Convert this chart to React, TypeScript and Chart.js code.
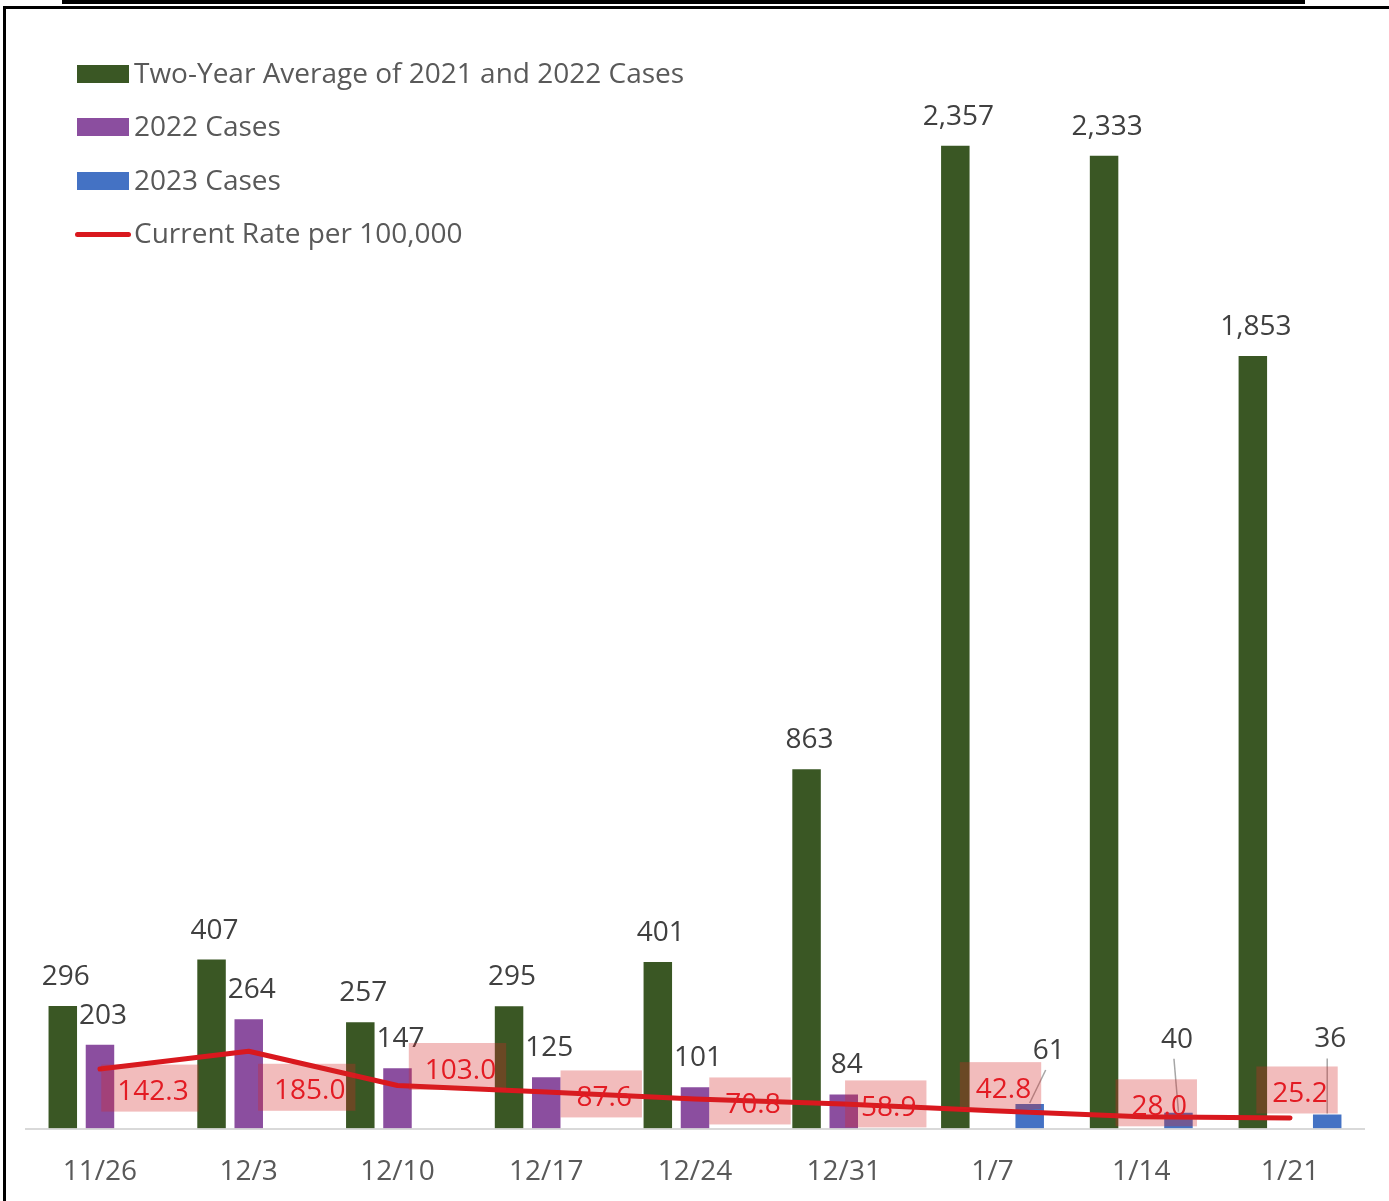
import React, { useEffect, useRef } from 'react';
import { Chart, registerables } from 'chart.js';

Chart.register(...registerables);

const categories = ['11/26', '12/3', '12/10', '12/17', '12/24', '12/31', '1/7', '1/14', '1/21'];
const twoYearAvg = [296, 407, 257, 295, 401, 863, 2357, 2333, 1853];
const cases2022: (number | null)[] = [203, 264, 147, 125, 101, 84, null, null, null];
const cases2023: (number | null)[] = [null, null, null, null, null, null, 61, 40, 36];
const ratePer100k = [142.3, 185.0, 103.0, 87.6, 70.8, 58.9, 42.8, 28.0, 25.2];

const seriesNames = ['Two-Year Average of 2021 and 2022 Cases', '2022 Cases', '2023 Cases', 'Current Rate per 100,000'];

const FONT = '"Open Sans", sans-serif';
const GREEN = '#3a5724';
const PURPLE = '#8b4e9f';
const BLUE = '#4472c4';
const RED = '#d9181e';

// label placement offsets (px) relative to their point / bar top
const RATE_LABEL_OFFSETS: [number, number][] = [
  [50, 19], [58, 36], [60, -19], [55, 2], [55, 2], [42, 0], [8, -25], [15, -14], [7, -28],
];
const BLUE_LABEL_OFFSETS: [number, number][] = [
  [0, -30], [0, -30], [0, -30], [0, -30], [0, -30], [0, -30], [19, -54], [-1.5, -74], [3, -76],
];

const labelPlugin = {
  id: 'customLabels',
  afterDatasetsDraw(chart: any) {
    const ctx = chart.ctx as CanvasRenderingContext2D;
    ctx.save();
    ctx.font = `28px ${FONT}`;
    ctx.textAlign = 'center';
    ctx.textBaseline = 'alphabetic';
    // bar labels
    [0, 1, 2].forEach((di) => {
      const meta = chart.getDatasetMeta(di);
      const data = chart.data.datasets[di].data;
      meta.data.forEach((el: any, i: number) => {
        const v = data[i];
        if (v == null) return;
        const { x, y } = el.getProps(['x', 'y'], true);
        let cx = x + 3;
        let cy = y - 30;
        if (di === 2) {
          const [dx, dy] = BLUE_LABEL_OFFSETS[i];
          cx = x + dx;
          cy = y + dy;
          ctx.strokeStyle = '#a6a6a6';
          ctx.lineWidth = 1.5;
          ctx.beginPath();
          ctx.moveTo(cx - 3, cy + 21);
          ctx.lineTo(x, y);
          ctx.stroke();
        }
        ctx.fillStyle = '#404040';
        ctx.fillText(Number(v).toLocaleString('en-US'), cx, cy + 10);
      });
    });
    // rate labels in boxes
    const lmeta = chart.getDatasetMeta(3);
    lmeta.data.forEach((el: any, i: number) => {
      const v = ratePer100k[i];
      const { x, y } = el.getProps(['x', 'y'], true);
      const [dx, dy] = RATE_LABEL_OFFSETS[i];
      const cx = x + dx;
      const cy = y + dy;
      const txt = v.toFixed(1);
      const w = ctx.measureText(txt).width + 26;
      const h = 47;
      ctx.fillStyle = 'rgba(213, 39, 39, 0.31)';
      ctx.fillRect(cx - w / 2, cy - h / 2, w, h);
      ctx.fillStyle = '#e31b23';
      ctx.fillText(txt, cx + 3, cy + 12);
    });
    ctx.restore();
  },
};

function App() {
  const ref = useRef<HTMLCanvasElement | null>(null);

  useEffect(() => {
    if (!ref.current) return;
    const chart = new Chart(ref.current, {
      type: 'bar',
      data: {
        labels: categories,
        datasets: [
          { type: 'bar', label: seriesNames[0], data: twoYearAvg, backgroundColor: GREEN, borderColor: 'rgba(255,255,255,0.35)', borderWidth: 1, order: 1 },
          { type: 'bar', label: seriesNames[1], data: cases2022, backgroundColor: PURPLE, borderColor: 'rgba(255,255,255,0.35)', borderWidth: 1, order: 1 },
          { type: 'bar', label: seriesNames[2], data: cases2023, backgroundColor: BLUE, borderColor: 'rgba(255,255,255,0.35)', borderWidth: 1, order: 1 },
          {
            type: 'line', label: seriesNames[3], data: ratePer100k, borderColor: RED, borderWidth: 5,
            pointRadius: 0, tension: 0, borderCapStyle: 'round', borderJoinStyle: 'round', order: 0,
          },
        ] as any,
      },
      options: {
        animation: false,
        responsive: false,
        maintainAspectRatio: false,
        devicePixelRatio: 1,
        layout: { padding: { left: 25.6, right: 24.6, top: 85, bottom: 12.5 } },
        datasets: { bar: { categoryPercentage: 0.75, barPercentage: 0.82 } },
        plugins: { legend: { display: false }, tooltip: { enabled: false }, title: { display: false } },
        scales: {
          x: {
            grid: { display: false, drawTicks: false },
            border: { display: true, color: '#d9d9d9', width: 2 },
            ticks: { color: '#595959', font: { family: FONT, size: 28 }, padding: 27 },
            afterFit: (scale: any) => { scale.height = 60; },
          },
          y: { display: false, min: 0, max: 2500 },
        },
      } as any,
      plugins: [labelPlugin],
    });
    return () => chart.destroy();
  }, []);

  const rowTop = [74, 127, 181, 234];
  const swatchColors = [GREEN, PURPLE, BLUE];

  return (
    <div style={{ position: 'absolute', left: 0, top: 0, width: 1389, height: 1201, background: '#fff', overflow: 'hidden' }}>
      <canvas ref={ref} width={1389} height={1201} style={{ position: 'absolute', left: 0, top: 0, width: 1389, height: 1201 }} />
      <div style={{ position: 'absolute', left: 62, top: 0, width: 1243, height: 4, background: '#000' }} />
      <div style={{ position: 'absolute', left: 4, top: 6, width: 1385, height: 2.5, background: '#000' }} />
      <div style={{ position: 'absolute', left: 3, top: 6, width: 2.5, height: 1195, background: '#000' }} />
      {seriesNames.map((name, i) => (
        <div key={name} style={{ position: 'absolute', left: 0, top: rowTop[i] - 20, height: 40, display: 'flex', alignItems: 'center' }}>
          {i < 3 ? (
            <div style={{ position: 'absolute', left: 77, top: 11, width: 52, height: 18, background: swatchColors[i] }} />
          ) : (
            <div style={{ position: 'absolute', left: 75, top: 17.5, width: 56, height: 5, borderRadius: 3, background: RED }} />
          )}
          <span style={{ position: 'absolute', left: 134, top: -2, lineHeight: '40px', whiteSpace: 'nowrap', fontFamily: FONT, fontSize: 28, color: '#595959' }}>{name}</span>
        </div>
      ))}
    </div>
  );
}

export default App;
